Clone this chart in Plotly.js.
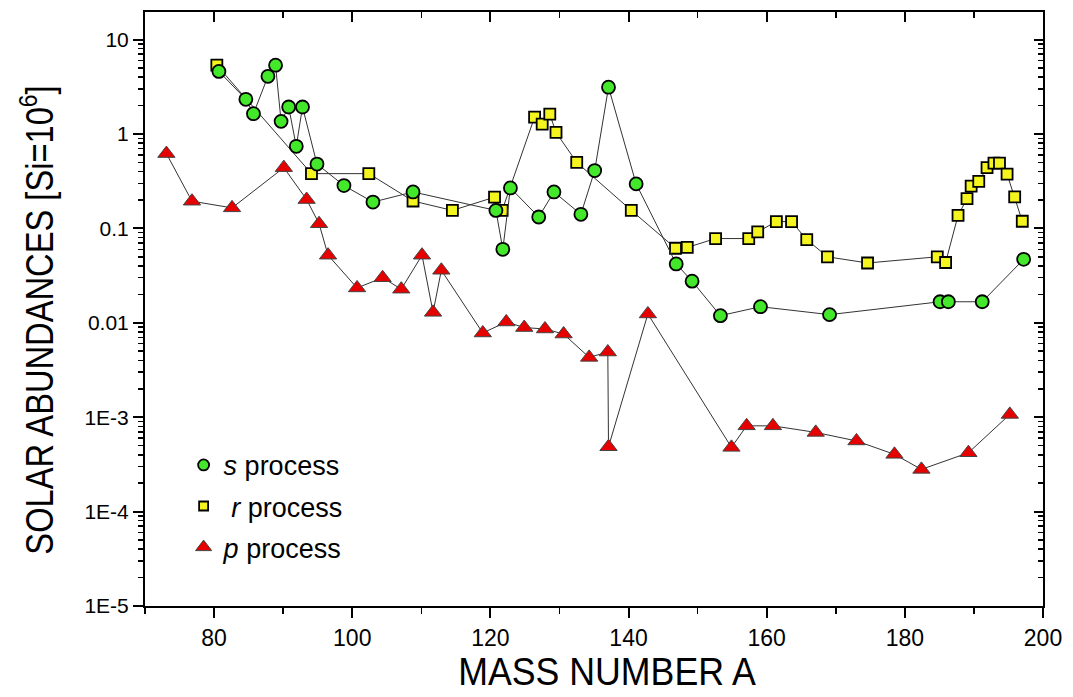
<!DOCTYPE html>
<html>
<head>
<meta charset="utf-8">
<script src="https://cdn.plot.ly/plotly-3.0.1.min.js"></script>
<style>html,body{margin:0;padding:0;background:#fff;}#chart{width:1073px;height:697px;}</style>
</head>
<body>
<div id="chart"></div>
<script>
// s process
const sMass = [80.7, 84.6, 85.7, 87.8, 88.9, 89.7, 90.8, 91.9, 92.8, 94.9, 98.8, 103.0, 108.8, 120.8, 121.8, 122.9, 127.0, 129.2, 133.1, 135.1, 137.1, 141.1, 146.9, 149.2, 153.3, 159.1, 169.1, 185.1, 186.3, 191.2, 197.2];
const sAbund = [4.6, 2.33, 1.64, 4.08, 5.35, 1.36, 1.93, 0.74, 1.93, 0.48, 0.284, 0.19, 0.243, 0.155, 0.060, 0.268, 0.132, 0.243, 0.141, 0.41, 3.13, 0.296, 0.042, 0.0276, 0.0119, 0.0148, 0.0122, 0.0167, 0.0167, 0.0167, 0.047];
// r process
const rMass = [80.4, 94.1, 102.4, 108.8, 114.5, 120.6, 121.7, 126.4, 127.5, 128.6, 129.5, 132.5, 140.4, 146.8, 148.5, 152.6, 157.4, 158.7, 161.4, 163.6, 165.8, 168.8, 174.6, 184.7, 185.9, 187.7, 189.0, 189.6, 190.7, 191.9, 192.9, 193.7, 194.8, 195.9, 197.0];
const rAbund = [5.35, 0.38, 0.38, 0.195, 0.155, 0.214, 0.155, 1.51, 1.27, 1.62, 1.04, 0.50, 0.155, 0.0616, 0.0628, 0.078, 0.078, 0.092, 0.118, 0.118, 0.076, 0.050, 0.043, 0.050, 0.0435, 0.137, 0.207, 0.28, 0.314, 0.44, 0.49, 0.49, 0.375, 0.216, 0.119];
// p process
const pMass = [73.1, 76.8, 82.6, 90.1, 93.4, 95.2, 96.5, 100.7, 104.4, 107.1, 110.1, 111.7, 112.9, 118.9, 122.3, 124.9, 127.9, 130.6, 134.3, 137.0, 137.1, 142.8, 154.9, 157.1, 160.9, 167.1, 173.0, 178.5, 182.4, 189.2, 195.2];
const pAbund = [0.62, 0.194, 0.165, 0.44, 0.202, 0.112, 0.052, 0.0234, 0.030, 0.0227, 0.052, 0.0129, 0.036, 0.0078, 0.0102, 0.0089, 0.0086, 0.0076, 0.0043, 0.0049, 0.000486, 0.0124, 0.000479, 0.00081, 0.00081, 0.00069, 0.00056, 0.000404, 0.00028, 0.00042, 0.00107];

const yTickVals = [1e-5, 1e-4, 1e-3, 0.01, 0.1, 1, 10];
const yTickText = ['1E-5', '1E-4', '1E-3', '0.01', '0.1', '1', '10'];
const legendNames = ['<i>s</i> process', ' <i>r</i> process', '<i>p</i> process'];

const lineStyle = {color: '#333333', width: 1};
const colS = '#44e82a', colR = '#f4f41f', colP = '#e60000';

const traces = [
  {x: rMass, y: rAbund, mode: 'lines+markers', showlegend: false, line: lineStyle,
   marker: {symbol: 'square', size: 11, color: colR, line: {color: '#000', width: 1.8}}},
  {x: sMass, y: sAbund, mode: 'lines+markers', showlegend: false, line: lineStyle,
   marker: {symbol: 'circle', size: 13, color: colS, line: {color: '#000', width: 1.8}}},
  {x: pMass, y: pAbund, mode: 'lines+markers', showlegend: false, line: lineStyle,
   marker: {symbol: 'triangle-up', size: 15, color: colP, line: {color: '#444', width: 1}}},
  {x: [null], y: [null], mode: 'markers', name: legendNames[0], legendgroup: 'a',
   marker: {symbol: 'circle', size: 11, color: colS, line: {color: '#000', width: 1.8}}},
  {x: [null], y: [null], mode: 'markers', name: legendNames[1], legendgroup: 'b',
   marker: {symbol: 'square', size: 9, color: colR, line: {color: '#000', width: 1.8}}},
  {x: [null], y: [null], mode: 'markers', name: legendNames[2], legendgroup: 'c',
   marker: {symbol: 'triangle-up', size: 14, color: colP, line: {color: '#444', width: 1}}},
  {x: [null], y: [null], xaxis: 'x2', yaxis: 'y2', showlegend: false, hoverinfo: 'skip', mode: 'markers'}
];

const xRange = [70, 200];
const yRange = [-5, 1.292];
const sansFont = 'Liberation Sans, Arial, sans-serif';

const layout = {
  width: 1073, height: 697,
  margin: {l: 145, r: 30, t: 12, b: 91},
  paper_bgcolor: '#fff', plot_bgcolor: '#fff',
  showlegend: true,
  legend: {x: 0.043, y: 0.278, xanchor: 'left', yanchor: 'top', bgcolor: 'rgba(0,0,0,0)',
           font: {family: sansFont, size: 27, color: '#000'},
           traceorder: 'grouped', tracegroupgap: 3, itemsizing: 'trace'},
  xaxis: {
    range: xRange, autorange: false, showgrid: false, zeroline: false,
    showline: true, linecolor: '#000', linewidth: 2,
    tickmode: 'linear', tick0: 0, dtick: 20,
    ticks: 'outside', ticklen: 10, tickwidth: 2, tickcolor: '#000',
    minor: {dtick: 10, tick0: 0, ticks: 'outside', ticklen: 6, tickwidth: 1.5, tickcolor: '#000', showgrid: false},
    tickfont: {family: sansFont, size: 23, color: '#000'},
    title: {text: 'MASS NUMBER A', font: {family: sansFont, size: 38, color: '#000'}, standoff: 2}
  },
  yaxis: {
    type: 'log', range: yRange, autorange: false, showgrid: false, zeroline: false,
    showline: true, linecolor: '#000', linewidth: 2,
    tickmode: 'array', tickvals: yTickVals, ticktext: yTickText,
    ticks: 'outside', ticklen: 10, tickwidth: 2, tickcolor: '#000',
    minor: {dtick: 'D1', ticks: 'outside', ticklen: 5, tickwidth: 1.5, tickcolor: '#000', showgrid: false},
    tickfont: {family: sansFont, size: 21, color: '#000'},
    title: {text: 'SOLAR ABUNDANCES [Si=10<sup>6</sup>]', font: {family: sansFont, size: 38, color: '#000'}, standoff: 19}
  },
  xaxis2: {
    overlaying: 'x', side: 'top', anchor: 'y2', range: xRange, autorange: false,
    showgrid: false, zeroline: false, showticklabels: false,
    showline: true, linecolor: '#000', linewidth: 2,
    tickmode: 'linear', tick0: 0, dtick: 20,
    ticks: 'inside', ticklen: 10, tickwidth: 2, tickcolor: '#000',
    minor: {dtick: 10, tick0: 0, ticks: 'inside', ticklen: 6, tickwidth: 1.5, tickcolor: '#000', showgrid: false}
  },
  yaxis2: {
    overlaying: 'y', side: 'right', anchor: 'x2', type: 'log', range: yRange, autorange: false,
    showgrid: false, zeroline: false, showticklabels: false,
    showline: true, linecolor: '#000', linewidth: 2,
    tickmode: 'array', tickvals: yTickVals,
    ticks: 'inside', ticklen: 9, tickwidth: 2, tickcolor: '#000',
    minor: {dtick: 'D1', ticks: 'inside', ticklen: 5, tickwidth: 1.5, tickcolor: '#000', showgrid: false}
  }
};

Plotly.newPlot('chart', traces, layout, {staticPlot: true, displayModeBar: false}).then(function (gd) {
  // condense the axis titles horizontally, as in the reference (narrow typeface)
  const xt = gd.querySelector('.xtitle');
  if (xt) {
    const x = parseFloat(xt.getAttribute('x'));
    const prev = xt.getAttribute('transform') || '';
    xt.setAttribute('transform', 'translate(13,0) ' + prev + ' translate(' + x + ',0) scale(0.94,1) translate(' + (-x) + ',0)');
  }
  const yt = gd.querySelector('.ytitle');
  if (yt) {
    const x = parseFloat(yt.getAttribute('x'));
    const y = parseFloat(yt.getAttribute('y'));
    const prev = yt.getAttribute('transform') || '';
    yt.setAttribute('transform', 'translate(0,11) ' + prev + ' translate(' + x + ',' + y + ') scale(0.86,1) translate(' + (-x) + ',' + (-y) + ')');
  }
});
</script>
</body>
</html>
